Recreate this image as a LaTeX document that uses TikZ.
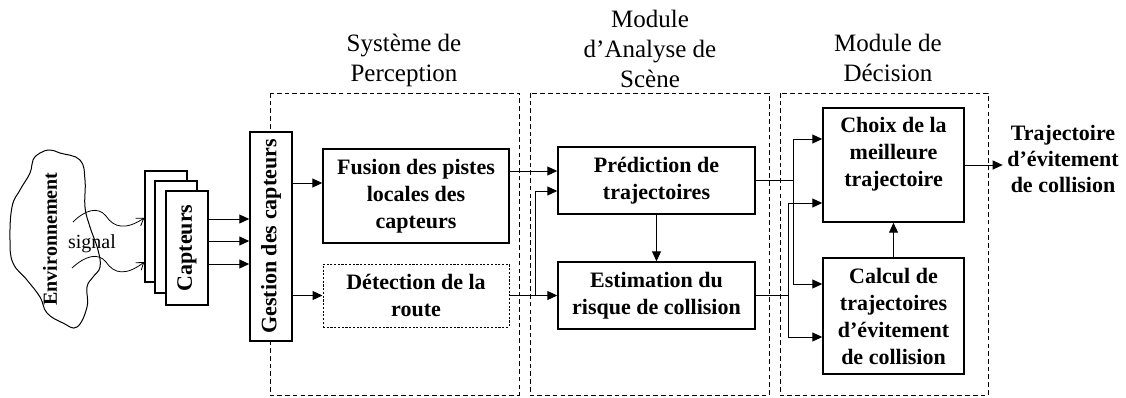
\documentclass[tikz,border=0pt]{standalone}
\usepackage{fontspec}
\setmainfont{Liberation Serif}
\usetikzlibrary{arrows.meta}

\begin{document}
\begin{tikzpicture}[
            x=0.75pt, y=-0.75pt,
            trait/.style={line width=0.75pt},
            bloc/.style={draw, line width=1.1pt, fill=white, align=center, inner sep=1pt,
            font=\bfseries\fontsize{16.5}{20.25}\selectfont},
            bloc pointille/.style={bloc, line width=0.75pt, dash pattern=on 1.6pt off 1.2pt},
            module/.style={line width=0.75pt, dash pattern=on 3.5pt off 2.3pt},
            titre/.style={align=center, font=\fontsize{18.75}{22.5}\selectfont},
            sortie/.style={align=center, font=\bfseries\fontsize{16.5}{19.5}\selectfont},
            pile/.style={trait, -{Triangle[length=7.5pt, width=6.75pt]}},
            onde/.style={line width=0.6pt, -{Straight Barb[length=5pt, width=7pt]}}
            ]
            \useasboundingbox (0,0) rectangle (1126,397);

            % modules
            \draw[module] (270,93) rectangle (519,395);
            \draw[module] (530,93) rectangle (769,395);
            \draw[module] (780,93) rectangle (988,395);
            \node[titre] (tperception) at (404,60) {Système de\\Perception};
            \node[titre] (tanalyse) at (650,49) {Module\\d’Analyse de\\Scène};
            \node[titre] (tdecision) at (888,58) {Module de\\Décision};

            % environnement
            \draw[trait] plot[smooth cycle, tension=0.7] coordinates {
                (50,150) (60,153) (80,160) (85,180) (85,207) (90,227) (98,250)
                (100,267) (93,277) (87,287) (87,307) (77,327) (63,323) (47,313)
                (40,297) (27,280) (13,263) (10,240) (12,207) (20,190) (30,173)
                (33,160) (40,153)};
            \node[rotate=90, font=\bfseries\fontsize{15}{18}\selectfont] (env) at (50,239) {Environnement};
            \node[font=\fontsize{15}{18}\selectfont] (signal) at (92,244) {signal};

            % capteurs
            \node[bloc, rotate=90, minimum width=83.25pt, minimum height=31.5pt] (capteursA) at (166,226.5) {};
            \node[bloc, rotate=90, minimum width=84pt, minimum height=31.5pt] (capteursB) at (176,237) {};
            \node[bloc, rotate=90, minimum width=85.5pt, minimum height=31.5pt] (capteurs) at (187,248) {Capteurs};
            \node[bloc, rotate=90, minimum width=156.75pt, minimum height=31.5pt] (gestion) at (271,236.5) {Gestion des capteurs};

            \draw[onde] (73,222) .. controls (85,210) and (98,206) .. (106,216)
                .. controls (114,228) and (126,230) .. (capteursA.north |- 0,218);
            \draw[onde] (72,268) .. controls (85,256) and (98,252) .. (106,262)
                .. controls (114,274) and (126,276) .. (capteursA.north |- 0,262);

            \foreach \y in {219,241,264}
                \draw[pile] (capteurs.south |- 0,\y) -- (gestion.north |- 0,\y);

            % blocs
            \node[bloc, minimum width=139.5pt, minimum height=70.5pt] (fusion) at (416,196) {Fusion des pistes\\locales des\\capteurs};
            \node[bloc pointille, minimum width=139.5pt, minimum height=47.25pt] (detection) at (416,295.5) {Détection de la\\route};
            \node[bloc, minimum width=147.75pt, minimum height=50.25pt] (prediction) at (656.5,180.5) {Prédiction de\\trajectoires};
            \node[bloc, minimum width=147.75pt, minimum height=50.25pt] (estimation) at (656.5,295.5) {Estimation du\\risque de collision};
            \node[bloc, minimum width=105.75pt, minimum height=85.5pt] (choix) at (893.5,165) {Choix de la\\meilleure\\trajectoire\rule[-19pt]{0pt}{19pt}};
            \node[bloc, minimum width=105.75pt, minimum height=87pt] (calcul) at (893.5,316) {Calcul de\\trajectoires\\d’évitement\\de collision};
            \node[sortie] (sortie) at (1063,159) {Trajectoire\\d’évitement\\de collision};

            % liaisons
            \draw[pile] (gestion.south |- 0,183) -- (fusion.west |- 0,183);
            \draw[pile] (gestion.south |- detection.west) -- (detection.west);
            \draw[pile] (fusion.east |- 0,171) -- (prediction.west |- 0,171);
            \draw[pile] (detection.east) -- (estimation.west);
            \coordinate (jdet) at (535,295.5);
            \draw[pile] (jdet) |- (prediction.west |- 0,191);
            \draw[pile] (prediction.south) -- (estimation.north);

            \coordinate (jpred) at (793,180.5);
            \draw[trait] (prediction.east) -- (jpred);
            \draw[pile] (jpred) |- (choix.west |- 0,139);
            \draw[pile] (jpred) |- (calcul.west |- 0,284);
            \coordinate (jest) at (788,295.5);
            \draw[trait] (estimation.east) -- (jest);
            \draw[pile] (jest) |- (choix.west |- 0,203);
            \draw[pile] (jest) |- (calcul.west |- 0,337);

            \draw[pile] (calcul.north) -- (choix.south);
            \draw[pile] (choix.east) -- (sortie.west |- choix.east);

        \end{tikzpicture}
\end{document}
